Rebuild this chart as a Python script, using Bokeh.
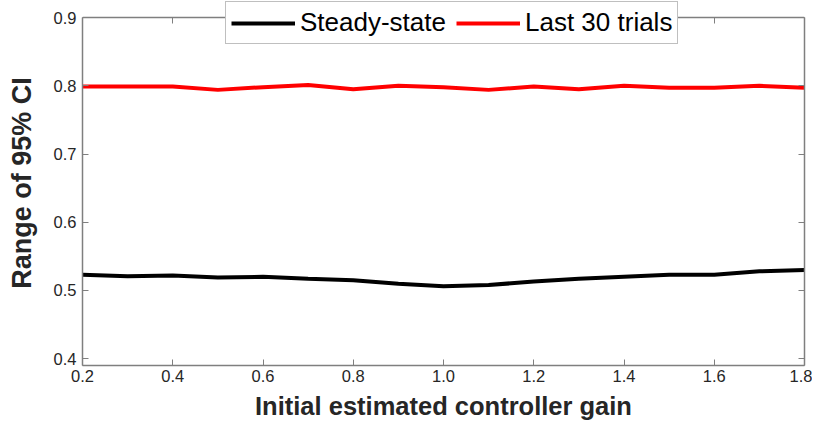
from bokeh.plotting import figure
from bokeh.models import LinearAxis, Legend, LegendItem, FixedTicker, Range1d
from bokeh.embed import file_html
from bokeh.resources import INLINE

gain = [0.2, 0.3, 0.4, 0.5, 0.6, 0.7, 0.8, 0.9, 1.0, 1.1, 1.2, 1.3, 1.4, 1.5, 1.6, 1.7, 1.8]
steady_state = [0.523, 0.521, 0.522, 0.519, 0.520, 0.517, 0.515, 0.510, 0.506, 0.508,
                0.513, 0.517, 0.520, 0.523, 0.523, 0.528, 0.530]
last_30 = [0.799, 0.799, 0.799, 0.794, 0.798, 0.801, 0.795, 0.800, 0.798, 0.794,
           0.799, 0.795, 0.800, 0.797, 0.797, 0.800, 0.797]
x_ticks = [0.2, 0.4, 0.6, 0.8, 1.0, 1.2, 1.4, 1.6, 1.8]
x_tick_labels = {0.2: "0.2", 0.4: "0.4", 0.6: "0.6", 0.8: "0.8", 1.0: "1.0",
                 1.2: "1.2", 1.4: "1.4", 1.6: "1.6", 1.8: "1.8"}
y_ticks = [0.4, 0.5, 0.6, 0.7, 0.8, 0.9]
y_min, y_max = 0.39, 0.9

FONT = "Liberation Sans"
AX_COL = "#7f7f7f"
TXT_COL = "#262626"

p = figure(frame_width=722, frame_height=365, output_backend="svg", toolbar_location=None,
           x_range=Range1d(0.2, 1.8), y_range=Range1d(y_min, 0.925),
           min_border_left=82, min_border_right=8, min_border_top=0, min_border_bottom=5)
p.background_fill_color = "white"
p.border_fill_color = "white"
p.outline_line_color = None
p.grid.visible = False

l1 = p.line(gain, steady_state, line_color="black", line_width=4)
l2 = p.line(gain, last_30, line_color="#ff0000", line_width=4)

for ax in p.xaxis:
    ax.ticker = FixedTicker(ticks=x_ticks)
    ax.major_label_overrides = x_tick_labels
    ax.axis_label = "Initial estimated controller gain"
    ax.major_label_standoff = 4
    ax.axis_label_standoff = 7
    ax.axis_label_text_font_size = "25.5px"
for ax in p.yaxis:
    ax.ticker = FixedTicker(ticks=y_ticks)
    ax.axis_label = "Range of 95% CI"
    ax.major_label_standoff = 6
    ax.axis_label_standoff = 14
    ax.axis_label_text_font_size = "27px"
    ax.bounds = (y_min, y_max)

for ax in list(p.xaxis) + list(p.yaxis):
    ax.axis_line_color = AX_COL
    ax.axis_line_width = 1.5
    ax.major_tick_line_color = AX_COL
    ax.major_tick_in = 6
    ax.major_tick_out = 0
    ax.minor_tick_line_color = None
    ax.major_label_text_font = FONT
    ax.major_label_text_font_size = "16.5px"
    ax.major_label_text_color = TXT_COL
    ax.axis_label_text_font = FONT
    ax.axis_label_text_font_style = "bold"
    ax.axis_label_text_color = TXT_COL

top = LinearAxis(ticker=FixedTicker(ticks=x_ticks), fixed_location=y_max,
                 major_label_overrides={t: "" for t in x_ticks},
                 axis_line_color=AX_COL, axis_line_width=1.5, major_tick_line_color=AX_COL,
                 major_tick_in=6, major_tick_out=0, minor_tick_line_color=None,
                 major_label_standoff=0)
right = LinearAxis(ticker=FixedTicker(ticks=y_ticks), bounds=(y_min, y_max),
                   major_label_overrides={t: "" for t in y_ticks},
                   axis_line_color=AX_COL, axis_line_width=1.5, major_tick_line_color=AX_COL,
                   major_tick_in=6, major_tick_out=0, minor_tick_line_color=None,
                   major_label_standoff=0)
p.add_layout(top, "above")
p.add_layout(right, "right")

legend = Legend(items=[LegendItem(label="Steady-state", renderers=[l1]),
                       LegendItem(label="Last 30 trials", renderers=[l2])],
                orientation="horizontal", location=(143, 321),
                label_text_font=FONT, label_text_font_size="26px", label_text_color="black",
                glyph_width=64, glyph_height=28, label_height=28, label_standoff=5, spacing=10,
                padding=5, margin=0, border_line_color=AX_COL, border_line_width=1.5,
                background_fill_alpha=1.0, background_fill_color="white")
p.add_layout(legend)

open("out.html", "w").write(file_html(p, INLINE))
